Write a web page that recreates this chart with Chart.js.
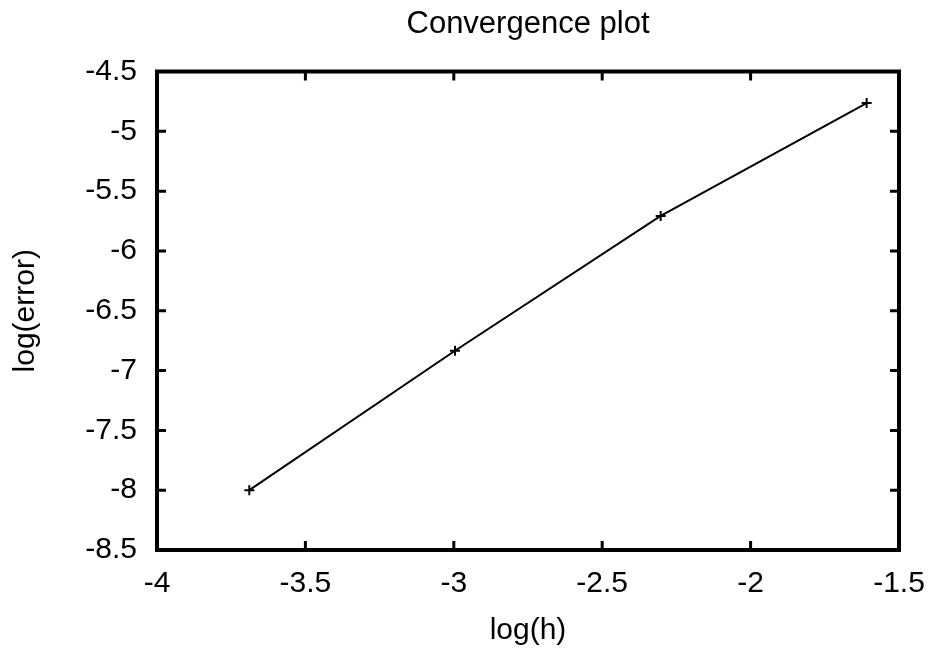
<!DOCTYPE html>
<html>
<head>
<meta charset="utf-8">
<title>Convergence plot</title>
<script src="https://cdn.jsdelivr.net/npm/chart.js@4.4.0/dist/chart.umd.min.js"></script>
<style>
    html, body { margin: 0; padding: 0; background: #fff; }
    #wrap { width: 934px; height: 653px; }
</style>
</head>
<body>
<div id="wrap"><canvas id="convChart" width="934" height="653"></canvas></div>
<script>
// log(h) and log(error) for h = 0.025, 0.05, 0.1, 0.2
const logH = [-3.689, -2.996, -2.303, -1.609];
const logErr = [-8.0, -6.834, -5.707, -4.764];

const xTicks = [-4, -3.5, -3, -2.5, -2, -1.5];
const yTicks = [-4.5, -5, -5.5, -6, -6.5, -7, -7.5, -8, -8.5];

const titleText = "Convergence plot";
const FONT = "'Liberation Sans', Arial, Helvetica, sans-serif";

// gnuplot-like frame with inward ticks on all four sides,
// plus the title centred over the plot area
const framePlugin = {
    id: "frame",
    afterDraw(chart) {
        const ctx = chart.ctx;
        const area = chart.chartArea;
        const xs = chart.scales.x;
        const ys = chart.scales.y;
        const tick = 9;
        ctx.save();
        ctx.strokeStyle = "#000";
        ctx.lineWidth = 3;
        xTicks.forEach(function (v) {
            const px = xs.getPixelForValue(v);
            ctx.beginPath();
            ctx.moveTo(px, area.bottom);
            ctx.lineTo(px, area.bottom - tick);
            ctx.moveTo(px, area.top);
            ctx.lineTo(px, area.top + tick);
            ctx.stroke();
        });
        yTicks.forEach(function (v) {
            const py = ys.getPixelForValue(v);
            ctx.beginPath();
            ctx.moveTo(area.left, py);
            ctx.lineTo(area.left + tick, py);
            ctx.moveTo(area.right, py);
            ctx.lineTo(area.right - tick, py);
            ctx.stroke();
        });
        ctx.lineWidth = 4;
        ctx.strokeRect(area.left, area.top, area.right - area.left, area.bottom - area.top);

        ctx.fillStyle = "#000";
        ctx.font = "31px " + FONT;
        ctx.textAlign = "center";
        ctx.textBaseline = "middle";
        ctx.fillText(titleText, (area.left + area.right) / 2, 24);
        ctx.restore();
    }
};

const ctx = document.getElementById("convChart").getContext("2d");

new Chart(ctx, {
    type: "scatter",
    data: {
        datasets: [{
            label: "error",
            data: logH.map(function (x, i) { return { x: x, y: logErr[i] }; }),
            showLine: true,
            borderColor: "#000",
            backgroundColor: "#000",
            borderWidth: 2,
            pointStyle: "cross",
            pointRadius: 5,
            pointBorderWidth: 2,
            tension: 0
        }]
    },
    options: {
        responsive: false,
        animation: false,
        layout: { padding: { left: 0, right: 35, top: 71.5, bottom: 0 } },
        plugins: {
            legend: { display: false },
            tooltip: { enabled: false },
            title: { display: false }
        },
        scales: {
            x: {
                type: "linear",
                min: -4,
                max: -1.5,
                afterBuildTicks: function (scale) {
                    scale.ticks = xTicks.map(function (v) { return { value: v }; });
                },
                afterFit: function (scale) {
                    scale.height = 103;
                    scale.paddingLeft = 0;
                    scale.paddingRight = 0;
                },
                grid: { display: false, drawTicks: false },
                border: { display: false },
                ticks: {
                    color: "#000",
                    padding: 16,
                    maxRotation: 0,
                    font: { family: FONT, size: 30 },
                    callback: function (v) { return String(v); }
                },
                title: {
                    display: true,
                    text: "log(h)",
                    color: "#000",
                    font: { family: FONT, size: 30 },
                    padding: { top: 0, bottom: 4 }
                }
            },
            y: {
                type: "linear",
                min: -8.5,
                max: -4.5,
                afterBuildTicks: function (scale) {
                    scale.ticks = yTicks.map(function (v) { return { value: v }; });
                },
                afterFit: function (scale) {
                    scale.width = 157;
                    scale.paddingTop = 0;
                    scale.paddingBottom = 0;
                },
                grid: { display: false, drawTicks: false },
                border: { display: false },
                ticks: {
                    color: "#000",
                    padding: 20,
                    font: { family: FONT, size: 30 },
                    callback: function (v) { return String(v); }
                },
                title: {
                    display: true,
                    text: "log(error)",
                    color: "#000",
                    font: { family: FONT, size: 30 },
                    padding: { top: 8, bottom: 0 }
                }
            }
        }
    },
    plugins: [framePlugin]
});
</script>
</body>
</html>
